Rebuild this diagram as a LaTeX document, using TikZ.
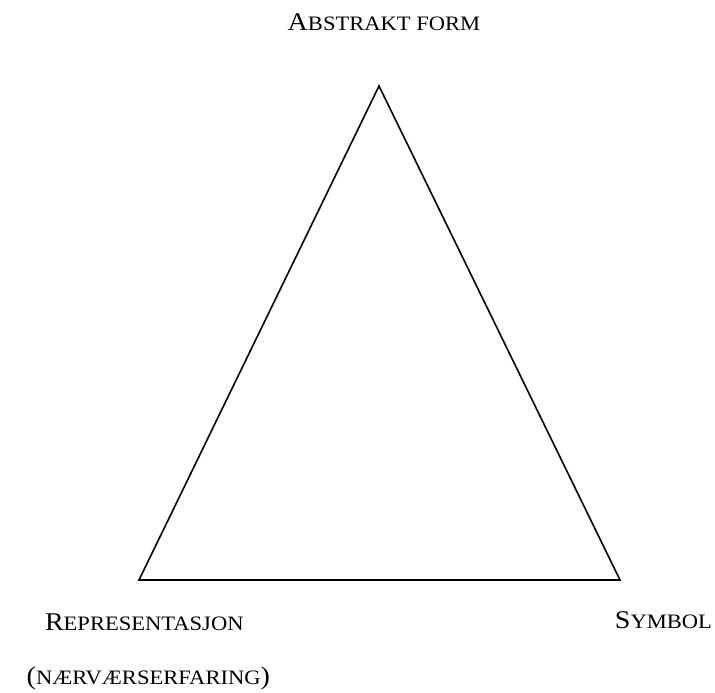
\documentclass[tikz,border=0pt]{standalone}
\usepackage{fontspec}
\setmainfont[FakeStretch=1.1]{Liberation Serif}
\newcommand{\bigL}[1]{{\fontsize{25.5}{28}\selectfont #1}}
\newcommand{\smL}[1]{{\fontsize{20.5}{23}\selectfont #1}}
\begin{document}
\begin{tikzpicture}[x=1pt,y=-1pt,
  lbl/.style={inner sep=0pt, outer sep=0pt},
  edge/.style={draw=black, line width=1.6pt, line join=miter}]
\useasboundingbox (0,0) rectangle (715,693);
\coordinate (top) at (379,86);
\coordinate (bl) at (139,580);
\coordinate (br) at (620,580);
\draw[edge] (top) -- (br) -- (bl) -- cycle;
\node[lbl, anchor=base] (abs) at (384,31) {\bigL{A}\smL{BSTRAKT FORM}};
\node[lbl, anchor=base west] (rep) at (45,630) {\bigL{R}\smL{EPRESENTASJON}};
\node[lbl, anchor=base east] (naer) at (270,684) {\bigL{(}\smL{NÆRVÆRSERFARING}\bigL{)}};
\node[lbl, anchor=base east] (sym) at (712,628) {\bigL{S}\smL{YMBOL}};
\end{tikzpicture}
\end{document}
